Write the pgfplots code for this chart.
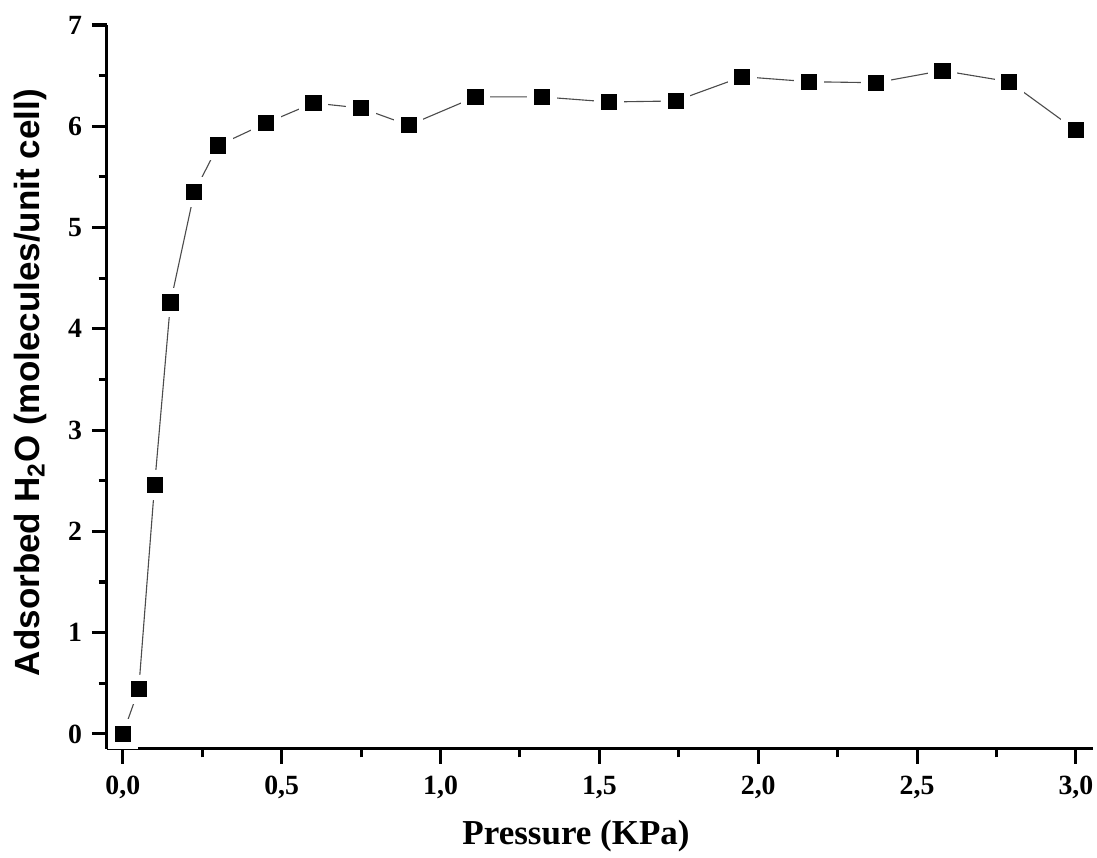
\documentclass[border=0pt]{standalone}
\usepackage{fontspec}
\setmainfont{Liberation Serif}
\newfontfamily\arialfont{Liberation Sans}
\usepackage{pgfplots}
\pgfplotsset{compat=1.18}
\usetikzlibrary{calc}

\begin{document}
\begin{tikzpicture}
\begin{axis}[
    name=ax,
    scale only axis,
    width=355pt, height=260.6pt,
    xmin=-0.05, xmax=3.054, ymin=-0.148, ymax=7,
    axis lines=left,
    axis on top,
    axis line style={-},
    x axis line style={line width=1.1pt},
    y axis line style={line width=1.1pt},
    tick align=outside,
    major tick length=5.4pt, minor tick length=3pt,
    every tick/.style={line width=1.1pt, black},
    xtick={0,0.5,...,3.0}, ytick={0,1,...,7},
    minor x tick num=1, minor y tick num=1,
    xticklabel style={yshift=-1pt, /pgf/number format/.cd, fixed, fixed zerofill, precision=1, use comma},
    tick label style={font=\fontsize{10}{12}\selectfont\bfseries},
    xlabel={Pressure (KPa)},
    ylabel={Adsorbed H\textsubscript{2}O (molecules/unit cell)},
    xlabel style={at={(axis description cs:0.4757,-0.120)}, anchor=center,
        font=\fontsize{12.6}{15}\selectfont\bfseries},
    ylabel style={at={(axis description cs:-0.078,0.506)}, anchor=center,
        font=\arialfont\fontsize{12.6}{15}\selectfont\bfseries},
    clip=false,
    /pgf/number format/assume math mode=true,
]
\addplot[black!70, line width=0.4pt,
    mark=square*, mark size=4.1pt,
    mark options={fill=black, draw=white, line width=2.4pt}]
  coordinates {
    (0,0) (0.05,0.44) (0.1,2.46) (0.15,4.26) (0.225,5.35) (0.3,5.81)
    (0.45,6.03) (0.6,6.23) (0.75,6.18) (0.9,6.01) (1.11,6.29) (1.32,6.29)
    (1.53,6.24) (1.74,6.25) (1.95,6.49) (2.16,6.44) (2.37,6.43) (2.58,6.55)
    (2.79,6.44) (3.0,5.96)
  };
\end{axis}
\pgfresetboundingbox
\path ($(ax.south west)+(-38.5pt,-39.2pt)$) rectangle ($(ax.north east)+(1.4pt,9pt)$);
\end{tikzpicture}
\end{document}
